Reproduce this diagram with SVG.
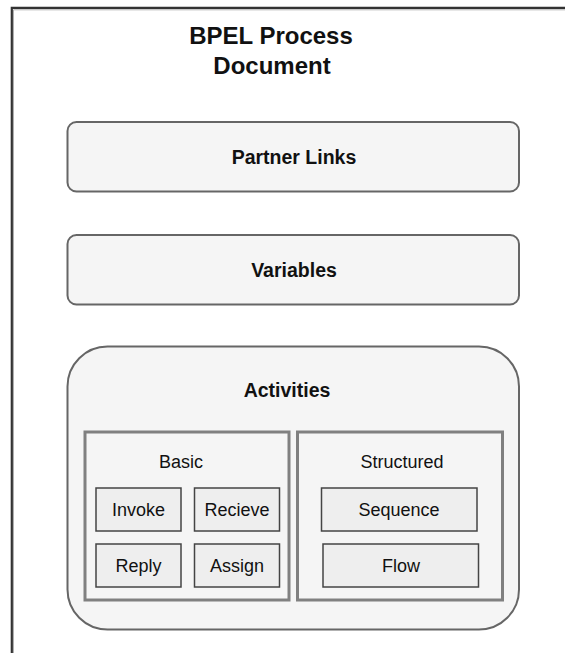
<svg xmlns="http://www.w3.org/2000/svg" width="565" height="653" viewBox="0 0 565 653">
  <style>
    text { font-family: "Liberation Sans", Arial, sans-serif; fill: #111; text-anchor: middle; }
    .title { font-size: 24px; font-weight: bold; }
    .section { font-size: 19.5px; font-weight: bold; }
    .label { font-size: 18px; }
    .panel { fill: #f5f5f5; stroke: #666; stroke-width: 2; }
    .group { fill: #f5f5f5; stroke: #808080; stroke-width: 3; }
    .item { fill: #eeeeee; stroke: #444; stroke-width: 1.5; }
  </style>

  <rect width="565" height="653" fill="#ffffff"/>

  <!-- document frame (top and left edges) -->
  <g id="frame" fill="none">
    <path d="M13.5,653 V9.8 H565" stroke="#b0b0b0" stroke-width="1"/>
    <path d="M11.8,653 V7.8 H565" stroke="#333" stroke-width="2.2"/>
  </g>

  <g id="title">
    <text class="title" x="271" y="43.5">BPEL Process</text>
    <text class="title" x="272" y="73.5">Document</text>
  </g>

  <g id="partner-links">
    <rect class="panel" x="67.5" y="122" width="451.5" height="69.5" rx="9"/>
    <text class="section" x="294" y="164">Partner Links</text>
  </g>

  <g id="variables">
    <rect class="panel" x="67.5" y="235" width="451.5" height="69.5" rx="9"/>
    <text class="section" x="294" y="276.5">Variables</text>
  </g>

  <g id="activities">
    <rect class="panel" x="67.5" y="346.5" width="451.5" height="283" rx="40"/>
    <text class="section" x="287" y="397">Activities</text>
  </g>

  <g id="basic">
    <rect class="group" x="85" y="432" width="204" height="168"/>
    <text class="label" x="181" y="468">Basic</text>
  </g>

  <g id="structured">
    <rect class="group" x="297.5" y="432" width="205" height="168"/>
    <text class="label" x="402" y="468">Structured</text>
  </g>

  <g id="invoke">
    <rect class="item" x="96" y="488" width="85" height="43"/>
    <text class="label" x="138.5" y="515.5">Invoke</text>
  </g>

  <g id="recieve">
    <rect class="item" x="194.5" y="488" width="85" height="43"/>
    <text class="label" x="237" y="515.5">Recieve</text>
  </g>

  <g id="reply">
    <rect class="item" x="96" y="544" width="85" height="43"/>
    <text class="label" x="138.5" y="572">Reply</text>
  </g>

  <g id="assign">
    <rect class="item" x="194.5" y="544" width="85" height="43"/>
    <text class="label" x="237" y="572">Assign</text>
  </g>

  <g id="sequence">
    <rect class="item" x="321.5" y="488" width="155.5" height="43"/>
    <text class="label" x="399" y="515.5">Sequence</text>
  </g>

  <g id="flow">
    <rect class="item" x="323" y="544" width="155.5" height="43"/>
    <text class="label" x="401" y="572">Flow</text>
  </g>

  <!-- no connectors in this diagram -->
  <g id="connectors"/>
</svg>
